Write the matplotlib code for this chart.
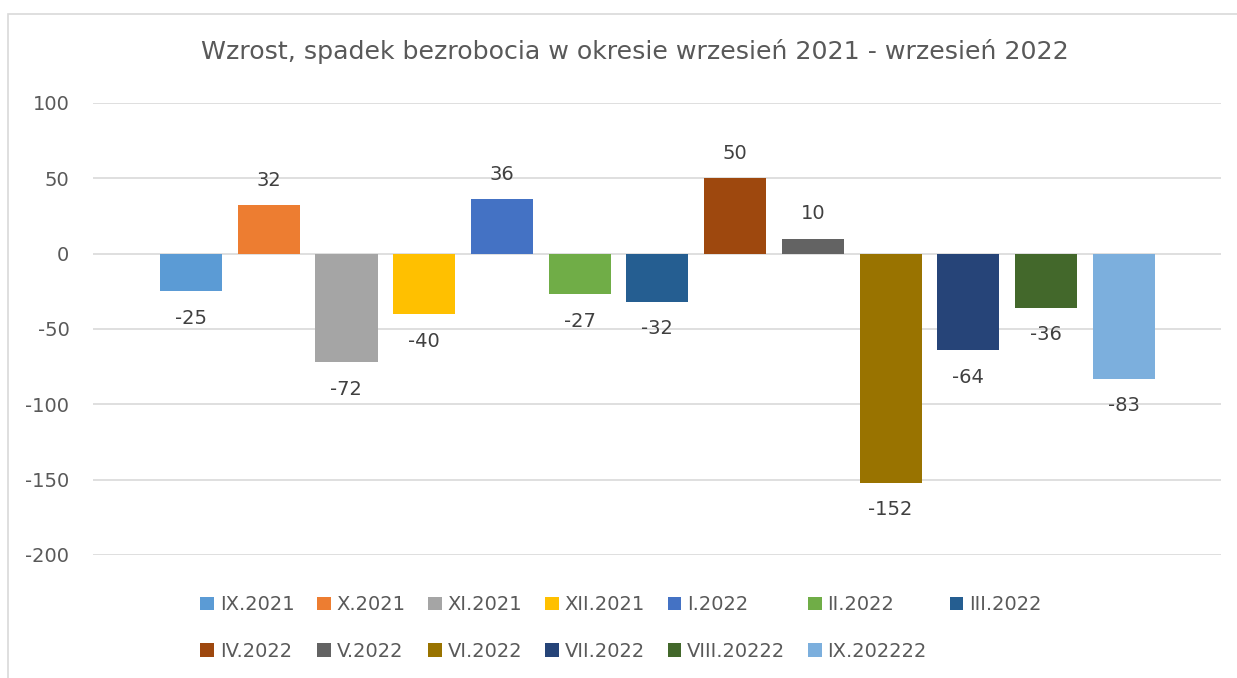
import matplotlib.pyplot as plt
from matplotlib.patches import Rectangle

# dane: zmiana liczby bezrobotnych, kazdy miesiac jako osobna seria
miesiace = ["IX.2021", "X.2021", "XI.2021", "XII.2021", "I.2022", "II.2022", "III.2022",
            "IV.2022", "V.2022", "VI.2022", "VII.2022", "VIII.20222", "IX.202222"]
zmiany = [-25, 32, -72, -40, 36, -27, -32, 50, 10, -152, -64, -36, -83]
kolory = ["#5B9BD5", "#ED7D31", "#A5A5A5", "#FFC000", "#4472C4", "#70AD47", "#255E91",
          "#9E480E", "#636363", "#997300", "#264478", "#43682B", "#7CAFDD"]
ticki_y = [100, 50, 0, -50, -100, -150, -200]

szary = "#595959"
siatka = "#D9D9D9"

plt.rcParams["font.family"] = ["DejaVu Sans"]
plt.rcParams["axes.unicode_minus"] = False

fig = plt.figure(figsize=(12.37, 6.78), dpi=100)
fig.patches.append(Rectangle((8 / 1237, -0.1), 1.2, (678 - 14) / 678 + 0.1,
                             transform=fig.transFigure, fill=False,
                             edgecolor=siatka, linewidth=1.2))

ax = fig.add_axes([93 / 1237, 123 / 678, 1128 / 1237, 452 / 678])

slupki = []
for i, (m, v, k) in enumerate(zip(miesiace, zmiany, kolory)):
    b = ax.bar(i, v, width=0.8, color=k, label=m, zorder=3)
    slupki.append(b)
    off = 18 if v >= 0 else -19.5
    ax.annotate(str(v), (i, v), xytext=(0, off), textcoords="offset points",
                ha="center", va="center", fontsize=14, color="#404040")

ax.set_xlim(-1.26, 13.25)
ax.set_ylim(-200, 100)
ax.set_yticks(ticki_y)
ax.set_xticks([])
ax.grid(axis="y", color=siatka, linewidth=1.2, zorder=0)
ax.tick_params(axis="y", length=0, pad=17, labelsize=14, labelcolor=szary)
for s in ax.spines.values():
    s.set_visible(False)

fig.text(635 / 1237, 1 - 52 / 678, "Wzrost, spadek bezrobocia w okresie wrzesień 2021 - wrzesień 2022",
         ha="center", va="center", fontsize=18.2, color=szary)

# legenda wierszami (matplotlib wypelnia kolumnami)
kolejnosc = [0, 7, 1, 8, 2, 9, 3, 10, 4, 11, 5, 12, 6]
leg = fig.legend([slupki[i] for i in kolejnosc], [miesiace[i] for i in kolejnosc],
                 loc="center", bbox_to_anchor=(621 / 1237, 1 - 628 / 678), ncol=7, frameon=False,
                 fontsize=14, handlelength=0.7, handleheight=0.7, handletextpad=0.3,
                 columnspacing=1.17, labelspacing=1.4, labelcolor=szary)

fig.savefig("out.png", dpi=100)
